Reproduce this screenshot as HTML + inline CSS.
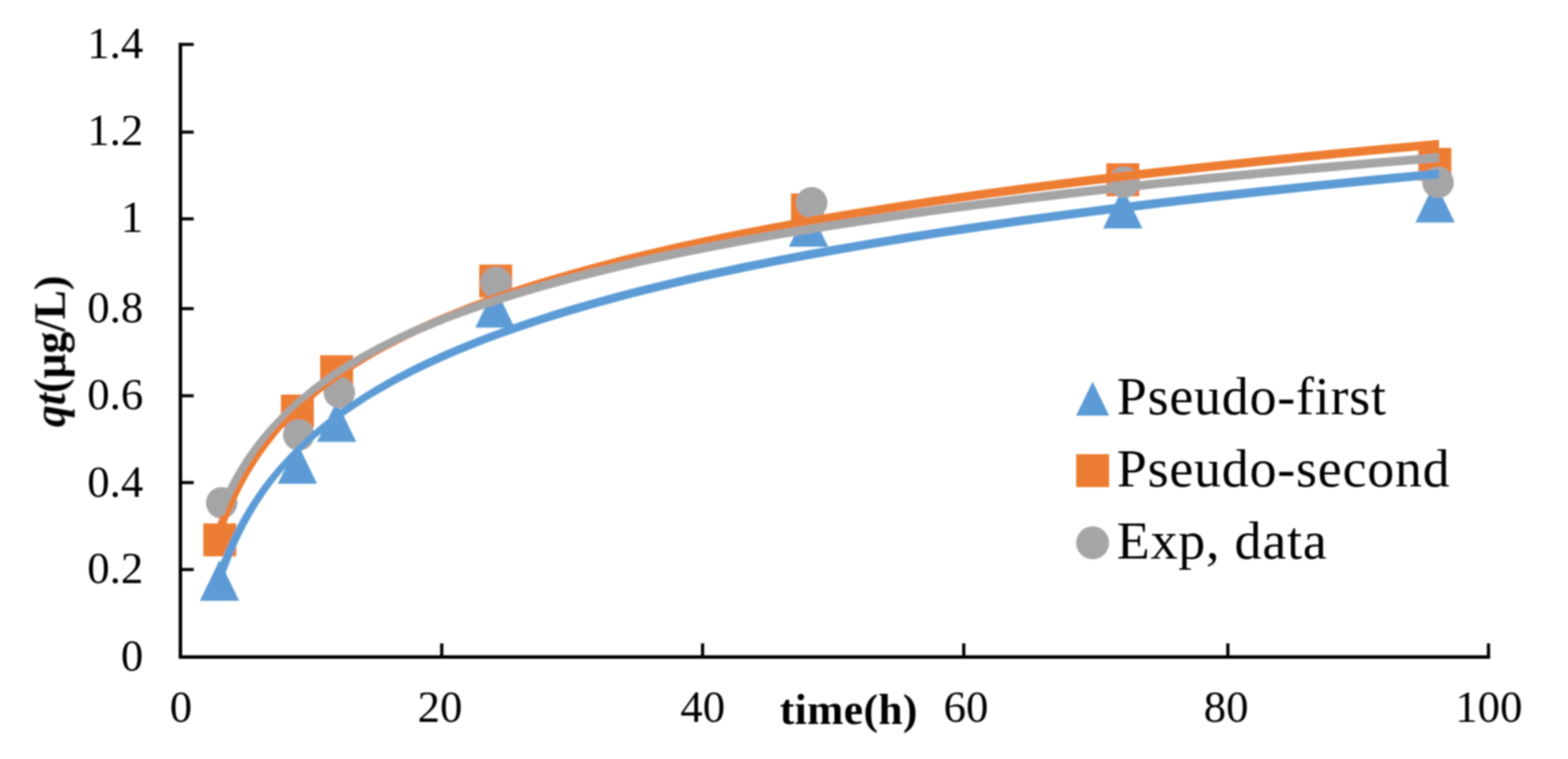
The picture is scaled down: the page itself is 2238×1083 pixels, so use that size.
<!DOCTYPE html>
<html lang="en">
<head>
<meta charset="utf-8">
<title>Adsorption kinetics chart</title>
<style>
html,body{margin:0;padding:0;background:#fff;}
body{width:2238px;height:1083px;overflow:hidden;font-family:"Liberation Serif",serif;}
svg{display:block;}
</style>
</head>
<body>
<svg width="2238" height="1083" viewBox="0 0 2238 1083">
<rect width="2238" height="1083" fill="#fff"/>
<defs><filter id="soft" x="0" y="0" width="2238" height="1083" filterUnits="userSpaceOnUse"><feGaussianBlur stdDeviation="1.1"/></filter></defs>
<g filter="url(#soft)">
<g fill="#000">
<rect x="255" y="61.2" width="5" height="878.8"/>
<rect x="255" y="935" width="1872" height="5"/>
<rect x="255" y="810.5" width="21.5" height="4.4"/>
<rect x="255" y="686.4" width="21.5" height="4.4"/>
<rect x="255" y="562.5" width="21.5" height="4.4"/>
<rect x="255" y="438.2" width="21.5" height="4.4"/>
<rect x="255" y="310.1" width="21.5" height="4.4"/>
<rect x="255" y="186.3" width="21.5" height="4.4"/>
<rect x="255" y="61.2" width="21.5" height="4.4"/>
<rect x="628.2" y="918" width="4.6" height="20"/>
<rect x="1000.5" y="918" width="4.6" height="20"/>
<rect x="1373.3" y="918" width="4.6" height="20"/>
<rect x="1750.2" y="918" width="4.6" height="20"/>
<rect x="2122.2" y="918" width="4.6" height="20"/>
</g>
<g fill="#5B9BD5">
<path d="M313.3 799.3 L341.3 857.3 L285.3 857.3 Z"/>
<path d="M424.5 632.3 L452.5 690.3 L396.5 690.3 Z"/>
<path d="M480.5 572.6 L508.5 630.6 L452.5 630.6 Z"/>
<path d="M706.5 409.6 L734.5 467.6 L678.5 467.6 Z"/>
<path d="M1154.0 294.0 L1182.0 352.0 L1126.0 352.0 Z"/>
<path d="M1602.5 268.0 L1630.5 326.0 L1574.5 326.0 Z"/>
<path d="M2048.3 259.4 L2076.3 317.4 L2020.3 317.4 Z"/>
</g>
<g fill="#ED7D31">
<rect x="290.2" y="746.8" width="47" height="47"/>
<rect x="401.0" y="563.0" width="47" height="47"/>
<rect x="457.0" y="506.9" width="47" height="47"/>
<rect x="684.0" y="377.5" width="47" height="47"/>
<rect x="1129.0" y="276.0" width="47" height="47"/>
<rect x="1579.1" y="233.0" width="47" height="47"/>
<rect x="2024.5" y="211.0" width="47" height="47"/>
</g>
<g fill="#A5A5A5">
<circle cx="316.4" cy="717.5" r="22.5"/>
<circle cx="426.4" cy="620.5" r="22.5"/>
<circle cx="484.3" cy="560.0" r="22.5"/>
<circle cx="708.0" cy="403.0" r="22.5"/>
<circle cx="1158.5" cy="289.3" r="22.5"/>
<circle cx="1604.5" cy="260.0" r="22.5"/>
<circle cx="2052.5" cy="260.3" r="22.5"/>
</g>
<path d="M307.2 824.2 L310.1 815.8 L313.1 807.5 L316.3 799.1 L319.7 790.8 L323.2 782.4 L326.9 774.1 L330.8 765.7 L334.9 757.4 L339.2 749.0 L343.8 740.7 L348.6 732.3 L353.6 724.0 L358.9 715.6 L364.4 707.3 L370.2 698.9 L376.4 690.6 L382.8 682.2 L389.6 673.9 L396.7 665.5 L404.2 657.2 L412.1 648.8 L426.7 634.2 L435.5 625.8 L444.6 617.5 L454.3 609.1 L464.4 600.8 L475.1 592.4 L486.3 584.1 L498.1 575.7 L510.5 567.4 L523.5 559.0 L537.2 550.7 L551.7 542.3 L566.8 534.0 L582.8 525.6 L599.5 517.3 L617.2 508.9 L635.7 500.6 L655.2 492.2 L675.7 483.9 L697.3 475.5 L719.9 467.2 L743.8 458.8 L768.8 450.5 L795.2 442.1 L822.9 433.8 L852.1 425.4 L882.7 417.1 L914.9 408.7 L948.8 400.4 L984.4 392.0 L1021.9 383.7 L1061.3 375.3 L1102.8 367.0 L1146.3 358.6 L1192.1 350.3 L1240.3 341.9 L1291.0 333.6 L1344.2 325.2 L1400.3 316.9 L1459.2 308.5 L1521.1 300.2 L1586.2 291.8 L1654.7 283.5 L1726.8 275.1 L1802.5 266.8 L1882.1 258.4 L1965.9 250.1 L2053.9 241.7 L2053.9 254.3 L1965.9 262.7 L1882.1 271.0 L1802.5 279.4 L1726.8 287.7 L1654.7 296.1 L1586.2 304.4 L1521.1 312.8 L1459.2 321.1 L1400.3 329.5 L1344.2 337.8 L1291.0 346.2 L1240.3 354.5 L1192.1 362.9 L1146.3 371.2 L1102.8 379.6 L1061.3 387.9 L1021.9 396.3 L984.4 404.6 L948.8 413.0 L914.9 421.3 L882.7 429.7 L852.1 438.0 L822.9 446.4 L795.2 454.7 L768.8 463.1 L743.8 471.4 L719.9 479.8 L697.3 488.1 L675.7 496.5 L655.2 504.8 L635.7 513.2 L617.2 521.5 L599.5 529.9 L582.8 538.2 L566.8 546.6 L551.7 554.9 L537.2 563.3 L523.5 571.6 L510.5 580.0 L498.1 588.3 L486.3 596.7 L475.1 605.0 L464.4 613.4 L454.3 621.7 L444.6 630.1 L435.5 638.4 L426.7 646.8 L424.7 648.8 L416.8 657.2 L409.3 665.5 L402.2 673.9 L395.4 682.2 L389.0 690.6 L382.8 698.9 L377.0 707.3 L371.5 715.6 L366.2 724.0 L361.2 732.3 L356.4 740.7 L351.8 749.0 L347.5 757.4 L343.4 765.7 L339.5 774.1 L335.8 782.4 L332.3 790.8 L328.9 799.1 L325.7 807.5 L322.7 815.8 L319.8 824.2 Z" fill="#5B9BD5"/>
<path d="M307.2 756.0 L310.1 748.0 L313.1 740.1 L316.3 732.1 L319.7 724.1 L323.2 716.1 L326.9 708.2 L330.8 700.2 L334.9 692.2 L339.2 684.2 L343.8 676.3 L348.6 668.3 L353.6 660.3 L358.9 652.3 L364.4 644.4 L370.2 636.4 L376.4 628.4 L382.8 620.4 L389.6 612.5 L396.7 604.5 L404.2 596.5 L418.4 582.2 L426.7 574.3 L435.5 566.3 L444.6 558.3 L454.3 550.3 L464.4 542.4 L475.1 534.4 L486.3 526.4 L498.1 518.4 L510.5 510.5 L523.5 502.5 L537.2 494.5 L551.7 486.5 L566.8 478.6 L582.8 470.6 L599.5 462.6 L617.2 454.6 L635.7 446.7 L655.2 438.7 L675.7 430.7 L697.3 422.8 L719.9 414.8 L743.8 406.8 L768.8 398.8 L795.2 390.9 L822.9 382.9 L852.1 374.9 L882.7 366.9 L914.9 359.0 L948.8 351.0 L984.4 343.0 L1021.9 335.0 L1061.3 327.1 L1102.8 319.1 L1146.3 311.1 L1192.1 303.1 L1240.3 295.2 L1291.0 287.2 L1344.2 279.2 L1400.3 271.2 L1459.2 263.3 L1521.1 255.3 L1586.2 247.3 L1654.7 239.3 L1726.8 231.4 L1802.5 223.4 L1882.1 215.4 L1965.9 207.4 L2053.9 199.5 L2053.9 212.1 L1965.9 220.0 L1882.1 228.0 L1802.5 236.0 L1726.8 244.0 L1654.7 251.9 L1586.2 259.9 L1521.1 267.9 L1459.2 275.9 L1400.3 283.8 L1344.2 291.8 L1291.0 299.8 L1240.3 307.8 L1192.1 315.7 L1146.3 323.7 L1102.8 331.7 L1061.3 339.7 L1021.9 347.6 L984.4 355.6 L948.8 363.6 L914.9 371.6 L882.7 379.5 L852.1 387.5 L822.9 395.5 L795.2 403.5 L768.8 411.4 L743.8 419.4 L719.9 427.4 L697.3 435.4 L675.7 443.3 L655.2 451.3 L635.7 459.3 L617.2 467.2 L599.5 475.2 L582.8 483.2 L566.8 491.2 L551.7 499.1 L537.2 507.1 L523.5 515.1 L510.5 523.1 L498.1 531.0 L486.3 539.0 L475.1 547.0 L464.4 555.0 L454.3 562.9 L444.6 570.9 L435.5 578.9 L426.7 586.9 L418.4 594.8 L416.8 596.5 L409.3 604.5 L402.2 612.5 L395.4 620.4 L389.0 628.4 L382.8 636.4 L377.0 644.4 L371.5 652.3 L366.2 660.3 L361.2 668.3 L356.4 676.3 L351.8 684.2 L347.5 692.2 L343.4 700.2 L339.5 708.2 L335.8 716.1 L332.3 724.1 L328.9 732.1 L325.7 740.1 L322.7 748.0 L319.8 756.0 Z" fill="#ED7D31"/>
<path d="M307.2 735.4 L310.1 728.0 L313.1 720.6 L316.3 713.2 L319.7 705.8 L323.2 698.4 L326.9 691.0 L330.8 683.6 L334.9 676.2 L339.2 668.8 L343.8 661.4 L348.6 654.0 L353.6 646.6 L358.9 639.2 L364.4 631.8 L370.2 624.4 L376.4 617.0 L382.8 609.6 L389.6 602.2 L396.7 594.8 L410.5 581.1 L418.4 573.7 L426.7 566.3 L435.5 558.9 L444.6 551.5 L454.3 544.1 L464.4 536.7 L475.1 529.3 L486.3 521.9 L498.1 514.5 L510.5 507.1 L523.5 499.7 L537.2 492.3 L551.7 484.9 L566.8 477.5 L582.8 470.1 L599.5 462.7 L617.2 455.3 L635.7 447.9 L655.2 440.5 L675.7 433.1 L697.3 425.7 L719.9 418.3 L743.8 410.9 L768.8 403.5 L795.2 396.1 L822.9 388.7 L852.1 381.3 L882.7 373.9 L914.9 366.5 L948.8 359.1 L984.4 351.7 L1021.9 344.3 L1061.3 336.9 L1102.8 329.5 L1146.3 322.1 L1192.1 314.7 L1240.3 307.3 L1291.0 299.9 L1344.2 292.5 L1400.3 285.1 L1459.2 277.7 L1521.1 270.3 L1586.2 262.9 L1654.7 255.5 L1726.8 248.1 L1802.5 240.7 L1882.1 233.3 L1965.9 225.9 L2053.9 218.6 L2053.9 231.2 L1965.9 238.5 L1882.1 245.9 L1802.5 253.3 L1726.8 260.7 L1654.7 268.1 L1586.2 275.5 L1521.1 282.9 L1459.2 290.3 L1400.3 297.7 L1344.2 305.1 L1291.0 312.5 L1240.3 319.9 L1192.1 327.3 L1146.3 334.7 L1102.8 342.1 L1061.3 349.5 L1021.9 356.9 L984.4 364.3 L948.8 371.7 L914.9 379.1 L882.7 386.5 L852.1 393.9 L822.9 401.3 L795.2 408.7 L768.8 416.1 L743.8 423.5 L719.9 430.9 L697.3 438.3 L675.7 445.7 L655.2 453.1 L635.7 460.5 L617.2 467.9 L599.5 475.3 L582.8 482.7 L566.8 490.1 L551.7 497.5 L537.2 504.9 L523.5 512.3 L510.5 519.7 L498.1 527.1 L486.3 534.5 L475.1 541.9 L464.4 549.3 L454.3 556.7 L444.6 564.1 L435.5 571.5 L426.7 578.9 L418.4 586.3 L410.5 593.7 L409.3 594.8 L402.2 602.2 L395.4 609.6 L389.0 617.0 L382.8 624.4 L377.0 631.8 L371.5 639.2 L366.2 646.6 L361.2 654.0 L356.4 661.4 L351.8 668.8 L347.5 676.2 L343.4 683.6 L339.5 691.0 L335.8 698.4 L332.3 705.8 L328.9 713.2 L325.7 720.6 L322.7 728.0 L319.8 735.4 Z" fill="#A5A5A5"/>
<g font-family="'Liberation Serif', serif" font-size="64" fill="#000">
<text x="204.5" y="957.1" text-anchor="end">0</text>
<text x="204.5" y="832.3" text-anchor="end">0.2</text>
<text x="204.5" y="709.0" text-anchor="end">0.4</text>
<text x="204.5" y="584.1" text-anchor="end">0.6</text>
<text x="204.5" y="459.5" text-anchor="end">0.8</text>
<text x="204.5" y="331.2" text-anchor="end">1</text>
<text x="204.5" y="207.1" text-anchor="end">1.2</text>
<text x="204.5" y="83.0" text-anchor="end">1.4</text>
<text x="258.2" y="1030" text-anchor="middle">0</text>
<text x="628.0" y="1030" text-anchor="middle">20</text>
<text x="1003.0" y="1030" text-anchor="middle">40</text>
<text x="1378.7" y="1030" text-anchor="middle">60</text>
<text x="1750.0" y="1030" text-anchor="middle">80</text>
<text x="2125.0" y="1030" text-anchor="middle">100</text>
</g>
<g font-family="'Liberation Serif', serif" font-weight="bold" fill="#000">
<text x="1113" y="1032.5" font-size="62" letter-spacing="0.6">time(h)</text>
<g transform="translate(92.5 609.5) rotate(-90) scale(0.978 1)"><text x="0" y="0" font-size="64"><tspan font-style="italic">qt</tspan>(μg/L)</text></g>
</g>
<g>
<path d="M1559.5 544.5 L1583 593 L1536 593 Z" fill="#5B9BD5"/>
<rect x="1536" y="648" width="47" height="47" fill="#ED7D31"/>
<circle cx="1559.5" cy="774.5" r="23.5" fill="#A5A5A5"/>
<g font-family="'Liberation Serif', serif" font-size="77" letter-spacing="1.1" fill="#000">
<text x="1594" y="591">Pseudo-first</text>
<text x="1594" y="694">Pseudo-second</text>
<text x="1594" y="796.5">Exp, data</text>
</g>
</g>
</g>
</svg>
</body>
</html>
